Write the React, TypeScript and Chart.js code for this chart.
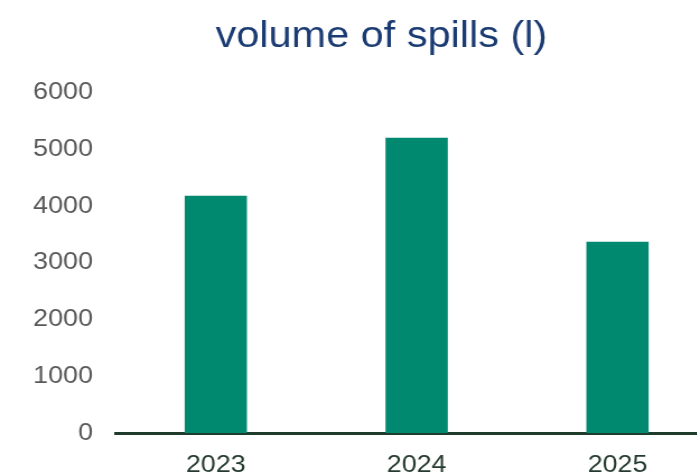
import React, { useEffect, useRef } from "react";
import { Chart, registerables } from "chart.js";

Chart.register(...registerables);

const categories = ["2023", "2024", "2025"];
const spillVolumes = [4180, 5200, 3370];
const yTicks = [0, 1000, 2000, 3000, 4000, 5000, 6000];

const STRETCH = 1.12;
const FONT = "Liberation Sans, Arial, sans-serif";

export default function App() {
  const ref = useRef<HTMLCanvasElement | null>(null);

  useEffect(() => {
    if (!ref.current) return;
    const chart = new Chart(ref.current, {
      type: "bar",
      data: {
        labels: categories,
        datasets: [
          {
            data: spillVolumes,
            backgroundColor: "#00896F",
            borderWidth: 0,
            categoryPercentage: 1,
            barPercentage: 0.31,
          },
        ],
      },
      options: {
        responsive: false,
        animation: false,
        layout: { padding: 0 },
        plugins: {
          legend: { display: false },
          tooltip: { enabled: false },
          title: {
            display: true,
            text: "volume of spills (l)",
            color: "#1B3C73",
            font: { family: FONT, size: 37, weight: "normal" },
            padding: { top: 15, bottom: 33 },
          },
        },
        scales: {
          x: {
            grid: { display: false, drawTicks: false },
            border: { display: true, color: "#1E3B2B", width: 3 },
            ticks: {
              color: "#263B30",
              font: { family: FONT, size: 24 },
              padding: 18,
            },
            afterFit: (s: any) => {
              s.height = 42;
            },
          },
          y: {
            min: 0,
            max: 6000,
            grid: { display: false, drawTicks: false },
            border: { display: false },
            afterBuildTicks: (s: any) => {
              s.ticks = yTicks.map((v) => ({ value: v }));
            },
            ticks: {
              color: "#595959",
              font: { family: FONT, size: 24 },
              padding: 20,
              callback: (v: any) => String(v),
            },
            afterFit: (s: any) => {
              s.width = 103;
            },
          },
          spacer: {
            type: "linear",
            position: "right",
            display: true,
            grid: { display: false, drawTicks: false },
            border: { display: false },
            ticks: { display: false },
            afterFit: (s: any) => {
              s.width = 40;
            },
          },
        },
      },
    });
    return () => chart.destroy();
  }, []);

  return (
    <div
      style={{
        position: "absolute",
        left: 0,
        top: 0,
        width: 697,
        height: 475,
        overflow: "hidden",
        background: "#fff",
      }}
    >
      <div style={{ transform: `scaleX(${STRETCH})`, transformOrigin: "0 0", width: 681 }}>
        <canvas ref={ref} width={681} height={475} style={{ display: "block" }} />
      </div>
    </div>
  );
}
